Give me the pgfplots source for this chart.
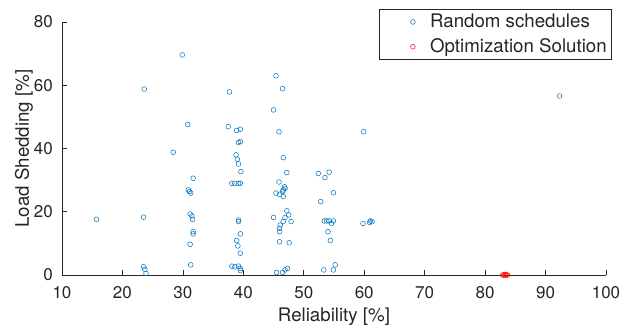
\documentclass[border=0pt]{standalone}
\usepackage{pgfplots}
\pgfplotsset{compat=1.18}
\usepackage{fontspec}
\setmainfont{TeX Gyre Heros}
\definecolor{mblue}{rgb}{0,0.447,0.741}
\definecolor{axgray}{rgb}{0.15,0.15,0.15}
\begin{document}
\begin{tikzpicture}
\begin{axis}[
  scale only axis,
  width=544pt, height=253pt,
  xmin=10, xmax=100, ymin=0, ymax=80,
  xtick={10,20,...,100}, ytick={0,20,...,80},
  axis x line=bottom, axis y line=left,
  axis line style={-, axgray, line width=0.6pt},
  tick style={axgray, line width=0.6pt},
  tick align=inside, major tick length=5pt,
  /pgf/number format/assume math mode=true,
  ticklabel style={font=\fontsize{17}{20}\selectfont, text=axgray},
  xticklabel style={anchor=base, yshift=-24pt, inner sep=0pt},
  yticklabel style={anchor=east, inner sep=0pt, xshift=-9pt},
  label style={font=\fontsize{18.7}{22}\selectfont, text=axgray},
  xlabel={Reliability [\%]},
  ylabel={Load Shedding [\%]},
  xlabel style={at={(axis description cs:0.5,0)}, anchor=base, yshift=-47pt},
  ylabel style={at={(axis description cs:-0.0699,0.5)}, anchor=center},
  legend style={at={(axis description cs:1.011,1.051)}, anchor=north east,
    draw=axgray, line width=0.5pt, fill=white,
    font=\fontsize{18.7}{22}\selectfont, text=axgray,
    inner xsep=3pt, inner ysep=3pt, row sep=5.5pt,
    /tikz/every odd column/.append style={column sep=0pt}},
  legend cell align=left,
  legend image code/.code={\path (-30pt,0pt) (15pt,0pt);
    \draw[#1] plot coordinates {(0pt,0pt)};},
]
\coordinate (o) at (rel axis cs:0,0);
\addplot[only marks, mark=o, mark size=2.4pt, mblue, line width=0.5pt] coordinates {
(15.7,17.6) (23.5,18.3) (23.6,58.8) (23.5,2.6) (23.7,1.8) (23.9,0.5)
(28.4,38.8) (29.9,69.6) (30.8,47.6) (30.9,26.9) (31.1,26.4) (31.3,25.9)
(31.7,30.6) (31.2,19.3) (31.5,18.7) (31.6,17.6) (31.7,13.7) (31.7,13.0)
(31.2,9.7) (31.3,3.2)
(37.7,57.9) (37.5,46.9) (39.5,46.1) (38.9,45.7) (39.2,41.9) (39.5,42.2)
(38.8,38.0) (39.0,36.6) (39.2,35.1) (39.6,32.7) (38.1,29.0) (38.6,29.0)
(39.2,29.0) (39.5,29.0) (39.2,17.4) (39.2,16.9) (39.5,13.0) (38.9,10.9)
(39.1,9.2) (39.5,6.9) (38.1,2.8) (38.6,2.6) (39.2,2.8) (39.5,2.1) (39.5,1.4)
(45.4,63.0) (46.5,58.9) (45.0,52.2) (45.9,45.3) (46.6,37.1) (47.2,32.4)
(45.9,29.4) (46.8,27.9) (46.9,27.4) (46.6,26.9) (46.5,26.4) (45.4,25.9)
(46.0,25.5) (46.6,24.8) (47.2,20.3) (47.5,19.0) (46.9,18.2) (47.9,16.9)
(46.6,16.9) (46.1,15.8) (46.0,14.8) (46.0,13.7) (45.0,18.2) (46.0,10.5)
(47.6,10.2) (45.5,0.8) (46.5,0.8) (47.3,2.1) (46.9,1.6)
(52.4,32.1) (53.5,30.8) (54.2,32.5) (54.9,26.0) (52.8,23.2) (53.4,17.1)
(53.8,17.1) (54.2,17.1) (54.9,17.1) (54.6,16.3) (54.0,13.7) (54.4,10.9)
(53.3,1.6) (54.9,1.6) (55.2,3.2)
(59.9,45.3) (59.8,16.3) (61.0,17.1) (61.3,16.9) (60.9,16.6)
(92.3,56.6)
};
\addlegendentry{Random schedules}
\addplot[only marks, mark=o, mark size=2.4pt, red, line width=0.5pt] coordinates {
(82.9,0) (83.1,0) (83.3,0) (83.5,0) (83.7,0) (83.4,0.2)
};
\addlegendentry{Optimization Solution}
\end{axis}
\pgfresetboundingbox
\path ([shift={(-62pt,-53pt)}]o) rectangle ([shift={(572pt,275pt)}]o);
\end{tikzpicture}
\end{document}
